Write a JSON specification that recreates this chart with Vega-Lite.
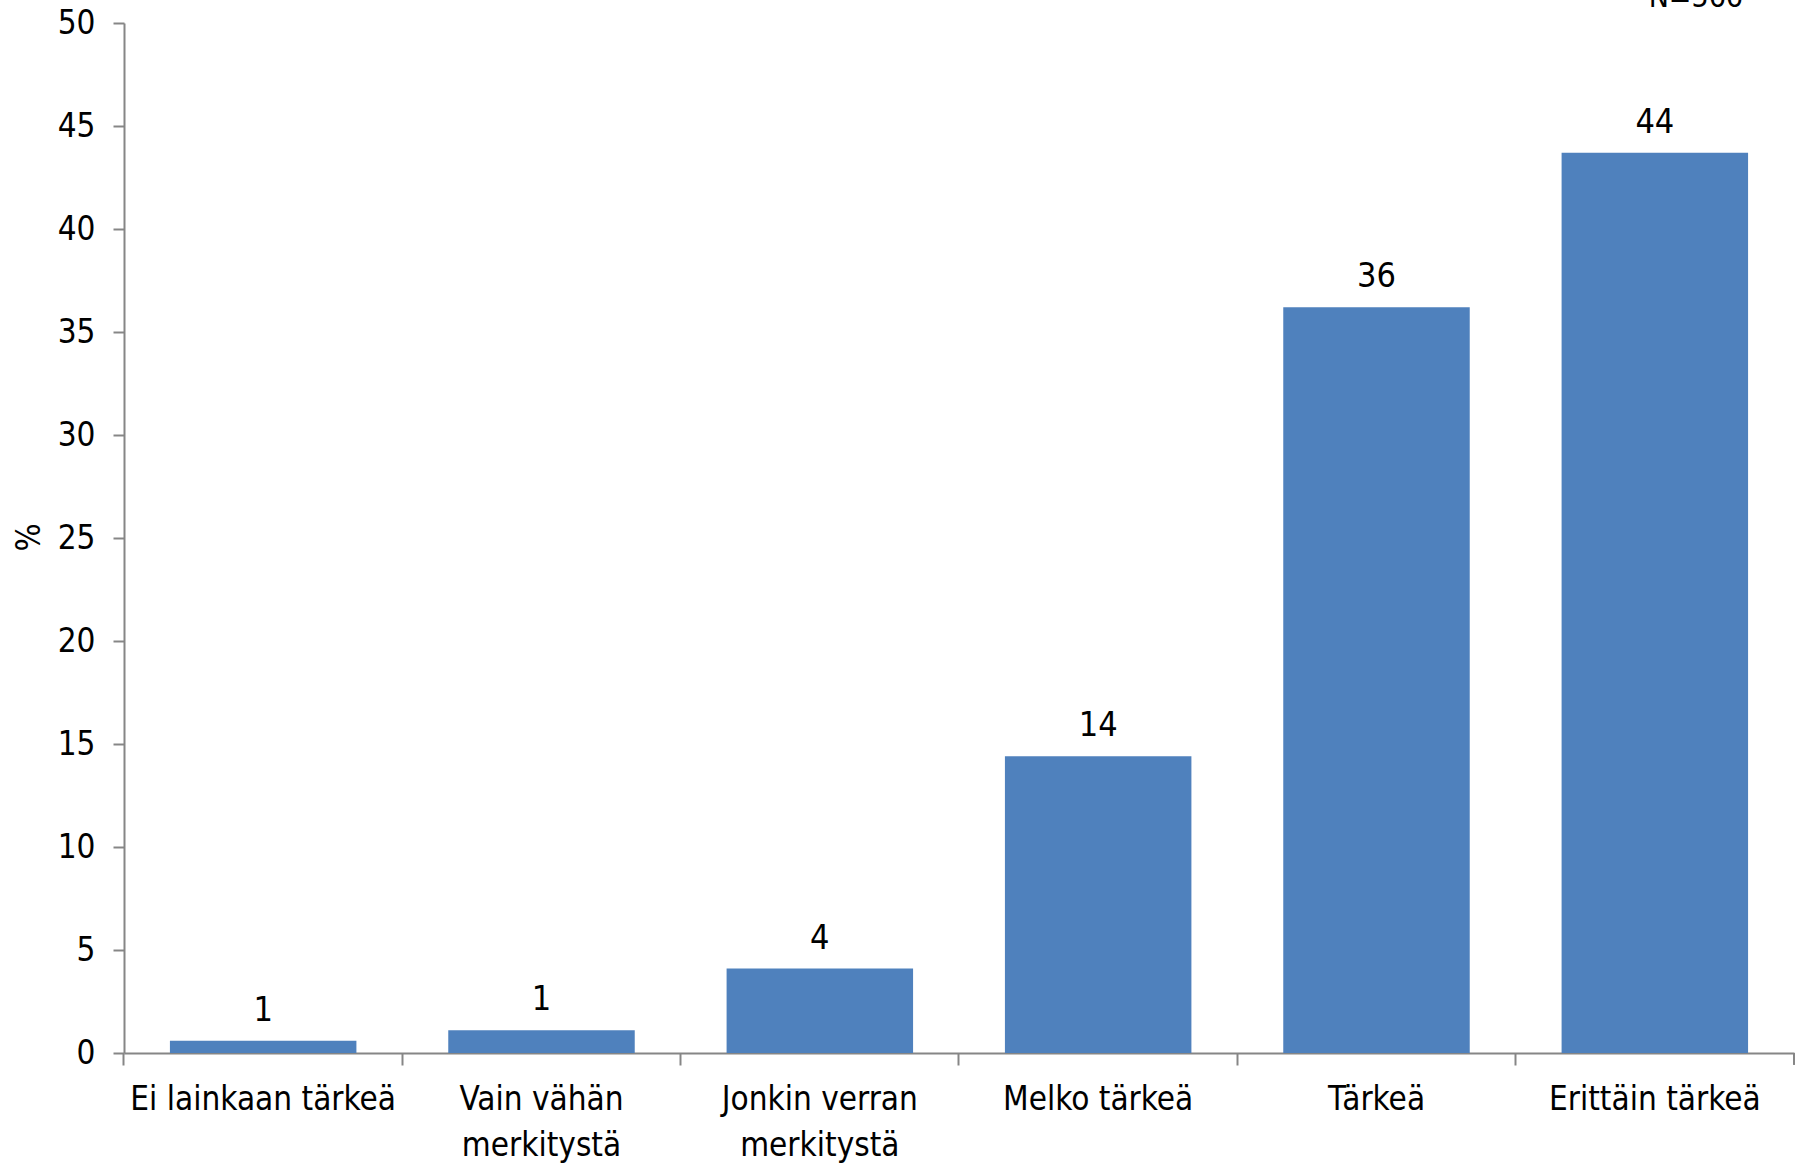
{
  "$schema": "https://vega.github.io/schema/vega-lite/v6.json",
  "width": 1670,
  "height": 1030,
  "autosize": {"type": "none"},
  "padding": {"left": 124, "top": 23, "right": 9, "bottom": 123},
  "background": "#ffffff",
  "config": {
    "view": {"stroke": null},
    "font": "'DejaVu Sans Condensed', 'Liberation Sans Narrow', Roboto, sans-serif"
  },
  "title": {
    "text": "N=566",
    "anchor": "end",
    "frame": "group",
    "orient": "top",
    "fontSize": 30,
    "fontWeight": "normal",
    "color": "#000000",
    "baseline": "alphabetic",
    "offset": 0,
    "dy": 30,
    "dx": -51
  },
  "data": {
    "values": [
      {"kategoria": "Ei lainkaan tärkeä", "prosentti": 0.6},
      {"kategoria": "Vain vähän merkitystä", "prosentti": 1.1},
      {"kategoria": "Jonkin verran merkitystä", "prosentti": 4.1},
      {"kategoria": "Melko tärkeä", "prosentti": 14.4},
      {"kategoria": "Tärkeä", "prosentti": 36.2},
      {"kategoria": "Erittäin tärkeä", "prosentti": 43.7}
    ]
  },
  "encoding": {
    "x": {
      "field": "kategoria",
      "type": "nominal",
      "sort": null,
      "scale": {"paddingInner": 0.33, "paddingOuter": 0.165},
      "axis": {
        "title": null,
        "bandPosition": -0.2463,
        "labelAngle": 0,
        "labelFontSize": 33,
        "labelColor": "#000000",
        "labelPadding": 18,
        "labelLineHeight": 46,
        "labelLimit": 500,
        "labelOverlap": false,
        "labelBound": false,
        "labelFlush": false,
        "labelExpr": "datum.value == 'Vain vähän merkitystä' ? ['Vain vähän', 'merkitystä'] : datum.value == 'Jonkin verran merkitystä' ? ['Jonkin verran', 'merkitystä'] : datum.value",
        "domainColor": "#868686",
        "domainWidth": 2,
        "tickColor": "#868686",
        "tickWidth": 2,
        "tickSize": 12
      }
    },
    "y": {
      "field": "prosentti",
      "type": "quantitative",
      "scale": {"domain": [0, 50], "nice": false},
      "axis": {
        "title": "%",
        "titleFontSize": 33,
        "titleFontWeight": "normal",
        "titleColor": "#000000",
        "titleX": -95,
        "titleY": 514,
        "titleAngle": 270,
        "titleBaseline": "middle",
        "titleAlign": "center",
        "values": [0, 5, 10, 15, 20, 25, 30, 35, 40, 45, 50],
        "grid": false,
        "labelFontSize": 33,
        "labelColor": "#000000",
        "labelPadding": 18,
        "domainColor": "#868686",
        "domainWidth": 2,
        "tickColor": "#868686",
        "tickWidth": 2,
        "tickSize": 11
      }
    }
  },
  "layer": [
    {
      "mark": {"type": "bar", "color": "#4F81BD"}
    },
    {
      "mark": {
        "type": "text",
        "fontSize": 34,
        "color": "#000000",
        "baseline": "alphabetic",
        "align": "center",
        "dy": -20
      },
      "encoding": {
        "text": {"field": "prosentti", "type": "quantitative", "format": ".0f"}
      }
    },
    {
      "transform": [{"filter": "datum.kategoria == 'Erittäin tärkeä'"}],
      "mark": {"type": "rule", "color": "#868686", "strokeWidth": 2, "clip": false},
      "encoding": {
        "x": {"field": "kategoria", "type": "nominal", "sort": null, "bandPosition": 1.2463},
        "y": {"datum": 0},
        "y2": {"datum": -0.58}
      }
    }
  ]
}
